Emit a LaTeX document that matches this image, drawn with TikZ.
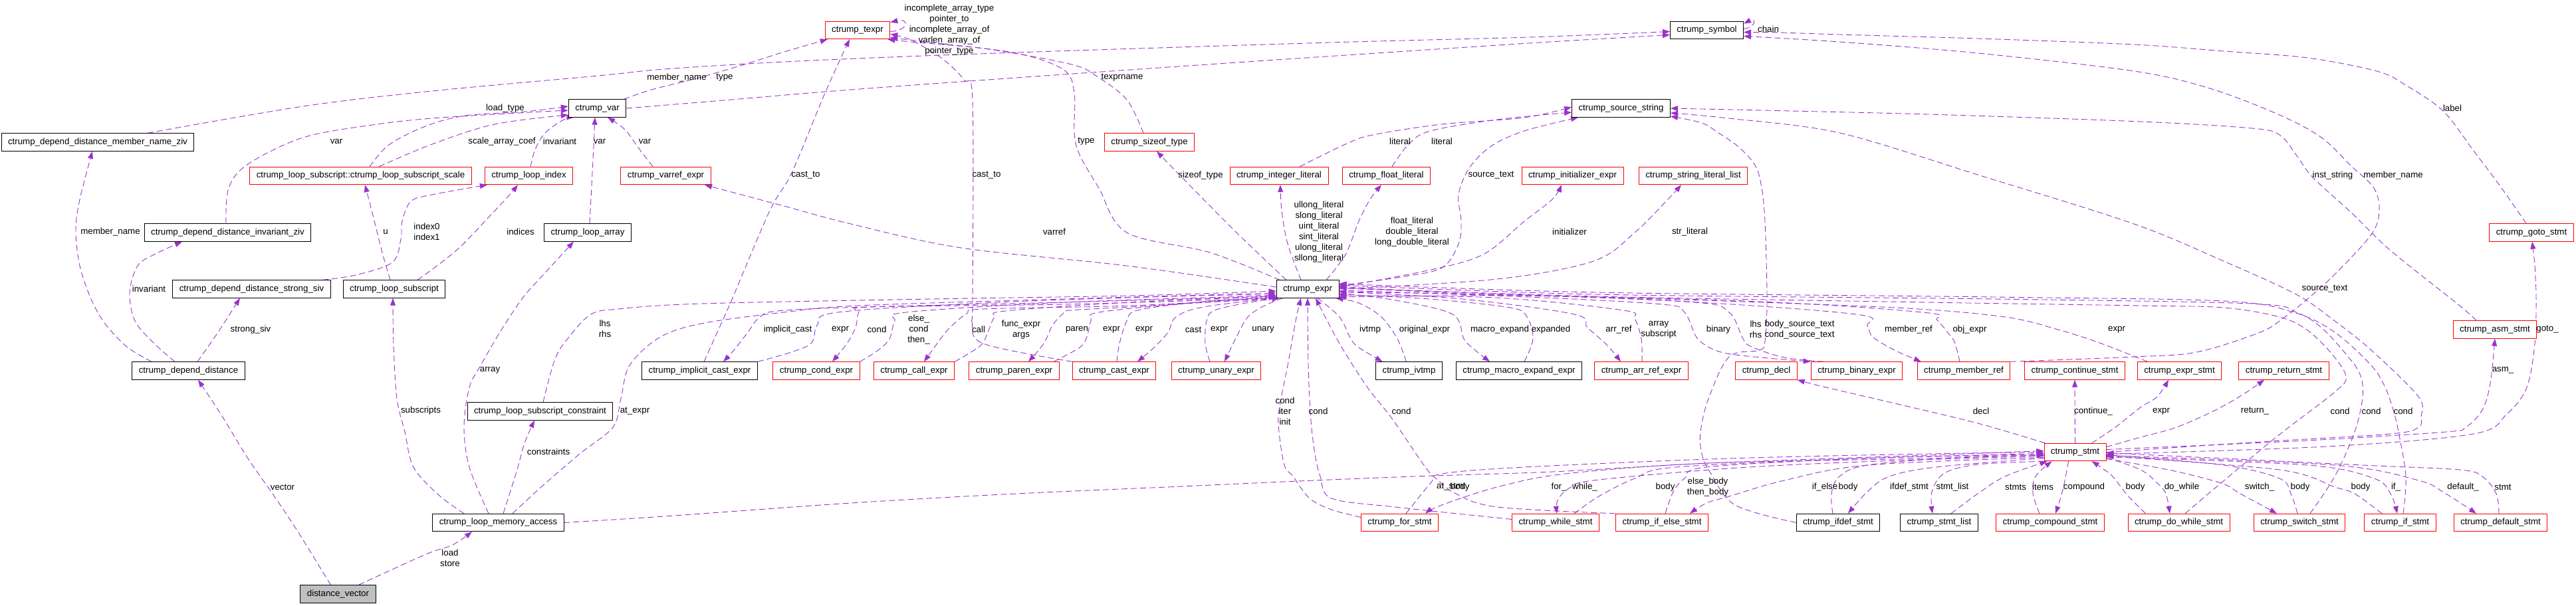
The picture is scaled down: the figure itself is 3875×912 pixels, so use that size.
\documentclass[tikz,border=0pt]{standalone}
\usepackage{fontspec}
\setmainfont{Liberation Sans}
\usetikzlibrary{arrows.meta}
\definecolor{dorchid}{HTML}{9A32CD}
\definecolor{nred}{HTML}{FF0000}
\definecolor{ngray}{HTML}{BFBFBF}
\newcommand\dgf{\fontsize{13.3}{16}\selectfont}
\newcommand\dgedge[1]{\draw[edge] plot[smooth,tension=0.55] coordinates {#1};}
\pgfdeclarelayer{bgl}
\pgfdeclarelayer{edl}
\pgfsetlayers{bgl,edl,main}
\begin{document}
\begin{tikzpicture}[x=1pt,y=-1pt,
  box/.style={draw=black, line width=0.9pt, fill=white, font=\dgf, inner xsep=10pt, inner ysep=0pt, minimum height=26.5pt, text height=9.6pt, text depth=2.8pt},
  rbox/.style={box, draw=nred},
  gbox/.style={box, fill=ngray},
  lbl/.style={font=\dgf, inner sep=0pt, align=center},
  edge/.style={draw=dorchid, line width=0.9pt, dash pattern=on 9pt off 5pt, -{Triangle[length=11pt,width=8pt]}}]
\useasboundingbox (0,0) rectangle (3875,912);
\begin{pgfonlayer}{bgl}
\fill[white] (0,0) rectangle (3875,912);
\end{pgfonlayer}
% ---------- nodes
\node[box] (nmnz) at (147,214) {ctrump\_depend\_distance\_member\_name\_ziv};
\node[rbox] (nscale) at (542.5,264.5) {ctrump\_loop\_subscript::ctrump\_loop\_subscript\_scale};
\node[box] (ninvz) at (342.5,350) {ctrump\_depend\_distance\_invariant\_ziv};
\node[box] (nssiv) at (378.5,435) {ctrump\_depend\_distance\_strong\_siv};
\node[box] (nlsub) at (593,435) {ctrump\_loop\_subscript};
\node[box] (ndd) at (283.5,558) {ctrump\_depend\_distance};
\node[gbox] (ndv) at (508.5,894) {distance\_vector};
\node[rbox] (ntexpr) at (1290,45.5) {ctrump\_texpr};
\node[box] (nvar) at (898.5,163) {ctrump\_var};
\node[rbox] (nlidx) at (795.5,264.5) {ctrump\_loop\_index};
\node[rbox] (nvarref) at (1001.5,264.5) {ctrump\_varref\_expr};
\node[box] (nlarr) at (884,350) {ctrump\_loop\_array};
\node[box] (nlsc) at (812.5,619) {ctrump\_loop\_subscript\_constraint};
\node[box] (nlma) at (749.5,786.5) {ctrump\_loop\_memory\_access};
\node[box] (nimpl) at (1052.5,558) {ctrump\_implicit\_cast\_expr};
\node[rbox] (ncondx) at (1228,558) {ctrump\_cond\_expr};
\node[rbox] (ncall) at (1375,558) {ctrump\_call\_expr};
\node[rbox] (nparen) at (1525.5,558) {ctrump\_paren\_expr};
\node[rbox] (ncast) at (1676,558) {ctrump\_cast\_expr};
\node[rbox] (nunary) at (1829.5,558) {ctrump\_unary\_expr};
\node[rbox] (nsizeof) at (1729,214) {ctrump\_sizeof\_type};
\node[rbox] (nintlit) at (1924,264.5) {ctrump\_integer\_literal};
\node[box] (nsym) at (2567.5,45.5) {ctrump\_symbol};
\node[box] (nsrc) at (2438.5,163) {ctrump\_source\_string};
\node[rbox] (nflt) at (2085.5,264.5) {ctrump\_float\_literal};
\node[rbox] (ninit) at (2365.5,264.5) {ctrump\_initializer\_expr};
\node[rbox] (nstrl) at (2547,264.5) {ctrump\_string\_literal\_list};
\node[box] (nexpr) at (1967,435) {ctrump\_expr};
\node[box] (nivtmp) at (2119.5,558) {ctrump\_ivtmp};
\node[box] (nmacro) at (2285,558) {ctrump\_macro\_expand\_expr};
\node[rbox] (narr) at (2469,558) {ctrump\_arr\_ref\_expr};
\node[rbox] (nfor) at (2105.5,786.5) {ctrump\_for\_stmt};
\node[rbox] (nwhile) at (2340,786.5) {ctrump\_while\_stmt};
\node[rbox] (nifelse) at (2500,786.5) {ctrump\_if\_else\_stmt};
\node[rbox] (ndecl) at (2657,558) {ctrump\_decl};
\node[rbox] (nbin) at (2793,558) {ctrump\_binary\_expr};
\node[rbox] (nmref) at (2954,558) {ctrump\_member\_ref};
\node[rbox] (ncont) at (3121,558) {ctrump\_continue\_stmt};
\node[rbox] (nstmt) at (3121.5,680.5) {ctrump\_stmt};
\node[box] (nifdef) at (2765,786.5) {ctrump\_ifdef\_stmt};
\node[box] (nslist) at (2917,786.5) {ctrump\_stmt\_list};
\node[rbox] (ncomp) at (3084,786.5) {ctrump\_compound\_stmt};
\node[rbox] (nestmt) at (3278.5,558) {ctrump\_expr\_stmt};
\node[rbox] (nret) at (3435.5,558) {ctrump\_return\_stmt};
\node[rbox] (nasm) at (3753,496) {ctrump\_asm\_stmt};
\node[rbox] (ndow) at (3277.5,786.5) {ctrump\_do\_while\_stmt};
\node[rbox] (nsw) at (3459,786.5) {ctrump\_switch\_stmt};
\node[rbox] (nifs) at (3610.5,786.5) {ctrump\_if\_stmt};
\node[rbox] (ndef) at (3761.5,786.5) {ctrump\_default\_stmt};
\node[rbox] (ngoto) at (3808,350) {ctrump\_goto\_stmt};
% ---------- labels
\node[lbl] (lb1) at (425,733) {vector};
\node[lbl] (lb2) at (677,840) {load\\store};
\node[lbl] (lb3) at (166,349) {member\_name};
\node[lbl] (lb4) at (224,435) {invariant};
\node[lbl] (lb5) at (377,496) {strong\_siv};
\node[lbl] (lb6) at (633,618) {subscripts};
\node[lbl] (lb7) at (737,557) {array};
\node[lbl] (lb8) at (825,680) {constraints};
\node[lbl] (lb9) at (955,619) {at\_expr};
\node[lbl] (lb10) at (910,495) {lhs\\rhs};
\node[lbl] (lb11) at (580,349) {u};
\node[lbl] (lb12) at (642,349) {index0\\index1};
\node[lbl] (lb13) at (783,349) {indices};
\node[lbl] (lb14) at (506,213) {var};
\node[lbl] (lb15) at (760,163) {load\_type};
\node[lbl] (lb16) at (755,213) {scale\_array\_coef};
\node[lbl] (lb17) at (842,213) {invariant};
\node[lbl] (lb18) at (902,213) {var};
\node[lbl] (lb19) at (970,213) {var};
\node[lbl] (lb20) at (1018,117) {member\_name};
\node[lbl] (lb21) at (1090,117) {type};
\node[lbl] (lb22) at (1212,264) {cast\_to};
\node[lbl] (lb23) at (1484,264) {cast\_to};
\node[lbl] (lb24) at (1428,45) {incomplete\_array\_type\\pointer\_to\\incomplete\_array\_of\\varlen\_array\_of\\pointer\_type};
\node[lbl] (lb25) at (1688,117) {texprname};
\node[lbl] (lb26) at (1634,213) {type};
\node[lbl] (lb27) at (1806,264) {sizeof\_type};
\node[lbl] (lb28) at (1586,349) {varref};
\node[lbl] (lb29) at (1984,349) {ullong\_literal\\slong\_literal\\uint\_literal\\sint\_literal\\ulong\_literal\\sllong\_literal};
\node[lbl] (lb30) at (2124,349) {float\_literal\\double\_literal\\long\_double\_literal};
\node[lbl] (lb31) at (2106,213) {literal};
\node[lbl] (lb32) at (2169,213) {literal};
\node[lbl] (lb33) at (2243,264) {source\_text};
\node[lbl] (lb34) at (2361,349) {initializer};
\node[lbl] (lb35) at (2542,349) {str\_literal};
\node[lbl] (lb36) at (2660,44) {chain};
\node[lbl] (lb37) at (3689,163) {label};
\node[lbl] (lb38) at (3600,264) {member\_name};
\node[lbl] (lb39) at (3509,264) {inst\_string};
\node[lbl] (lb40) at (3497,435) {source\_text};
\node[lbl] (lb41) at (2707,496) {body\_source\_text\\cond\_source\_text};
\node[lbl] (lb42) at (1185,496) {implicit\_cast};
\node[lbl] (lb43) at (1264,496) {expr};
\node[lbl] (lb44) at (1319,496) {cond};
\node[lbl] (lb45) at (1382,496) {else\_\\cond\\then\_};
\node[lbl] (lb46) at (1472,496) {call};
\node[lbl] (lb47) at (1536,496) {func\_expr\\args};
\node[lbl] (lb48) at (1620,496) {paren};
\node[lbl] (lb49) at (1672,496) {expr};
\node[lbl] (lb50) at (1721,496) {expr};
\node[lbl] (lb51) at (1795,496) {cast};
\node[lbl] (lb52) at (1834,496) {expr};
\node[lbl] (lb53) at (1900,496) {unary};
\node[lbl] (lb54) at (2061,496) {ivtmp};
\node[lbl] (lb55) at (2143,496) {original\_expr};
\node[lbl] (lb56) at (2256,496) {macro\_expand};
\node[lbl] (lb57) at (2333,496) {expanded};
\node[lbl] (lb58) at (2435,496) {arr\_ref};
\node[lbl] (lb59) at (2495,496) {array\\subscript};
\node[lbl] (lb60) at (2585,496) {binary};
\node[lbl] (lb61) at (2641,496) {lhs\\rhs};
\node[lbl] (lb62) at (2871,496) {member\_ref};
\node[lbl] (lb63) at (2963,496) {obj\_expr};
\node[lbl] (lb64) at (3184,496) {expr};
\node[lbl] (lb65) at (3520,619) {cond};
\node[lbl] (lb66) at (3567,619) {cond};
\node[lbl] (lb67) at (3615,619) {cond};
\node[lbl] (lb68) at (1933,619) {cond\\iter\\init};
\node[lbl] (lb69) at (1983,619) {cond};
\node[lbl] (lb70) at (2108,619) {cond};
\node[lbl] (lb71) at (2980,619) {decl};
\node[lbl] (lb72) at (3149,619) {continue\_};
\node[lbl] (lb73) at (3251,619) {expr};
\node[lbl] (lb74) at (3392,619) {return\_};
\node[lbl] (lb75) at (3765,557) {asm\_};
\node[lbl] (lb76) at (3832,496) {goto\_};
\node[lbl] (lb77) at (2183,733) {at\_stmt};
\node[lbl] (lb78) at (2196,733) {body};
\node[lbl] (lb79) at (2345,733) {for\_};
\node[lbl] (lb80) at (2384,733) {while\_};
\node[lbl] (lb81) at (2505,733) {body};
\node[lbl] (lb82) at (2569,733) {else\_body\\then\_body};
\node[lbl] (lb83) at (2745,733) {if\_else};
\node[lbl] (lb84) at (2780,733) {body};
\node[lbl] (lb85) at (2872,733) {ifdef\_stmt};
\node[lbl] (lb86) at (2937,733) {stmt\_list};
\node[lbl] (lb87) at (3032,733) {stmts};
\node[lbl] (lb88) at (3073,733) {items};
\node[lbl] (lb89) at (3135,733) {compound};
\node[lbl] (lb90) at (3212,733) {body};
\node[lbl] (lb91) at (3282,733) {do\_while};
\node[lbl] (lb92) at (3399,733) {switch\_};
\node[lbl] (lb93) at (3460,733) {body};
\node[lbl] (lb94) at (3551,733) {body};
\node[lbl] (lb95) at (3604,733) {if\_};
\node[lbl] (lb96) at (3705,733) {default\_};
\node[lbl] (lb97) at (3765,733) {stmt};
% ---------- edges
\begin{pgfonlayer}{edl}
\dgedge{([xshift=-11pt]ndv.north) (448,800) (410,743) (373,690) (332,623) ([xshift=14.5pt]ndd.south)}
\dgedge{([xshift=31pt]ndv.north) (590,857) (646,832) (681,820) ([xshift=-39.5pt]nlma.south)}
\dgedge{([xshift=-55.5pt]ndd.north) (191,522) (158,487) (137,450) (120,400) (114,347) (120,300) ([xshift=-8pt]nmnz.south)}
\dgedge{([xshift=-20.5pt]ndd.north) (232,517) (203,483) (195,440) (207,400) (232,383) ([xshift=-68.5pt]ninvz.south)}
\dgedge{([xshift=13.5pt]ndd.north) (328,500) ([xshift=-17.5pt]nssiv.south)}
\dgedge{([xshift=-51.5pt]nlma.north) (660,745) (622,703) (609,650) (597,600) (592,520) ([xshift=-2pt]nlsub.south)}
\dgedge{([xshift=-14.5pt]nlma.north) (706,703) (698,643) (706,583) (723,550) (752,500) (785,450) (814,417) ([xshift=-21pt]nlarr.south)}
\dgedge{([xshift=7.5pt]nlma.north) (777,710) (789,667) ([xshift=-8.5pt]nlsc.south)}
\dgedge{([xshift=21.5pt]nlma.north) (814,733) (872,683) (922,643) (934,600) (947,550) (992,508) (1055,487) (1179,470) (1290,460) (1600,450) ([yshift=-6pt]nexpr.west)}
\dgedge{([xshift=4.5pt]nlsc.north) (835,540) (856,507) (889,473) (930,465) (1055,457) (1400,450) (1700,445) ([yshift=-3pt]nexpr.west)}
\dgedge{(nlma.east) (1000,777) (1280,757) (1529,743) (1778,732) (1930,725) (2127,717) (2335,710) (2570,697) (2900,685) ([yshift=2pt]nstmt.west)}
\dgedge{([xshift=-6pt]nlsub.north) (575,380) (560,320) ([xshift=6.5pt]nscale.south)}
\dgedge{([xshift=106.5pt]nssiv.north) (535,414) (590,395) (603,360) (605,333) (618,303) (650,293) ([xshift=4pt]nlidx.south west)}
\dgedge{([xshift=35pt]nlsub.north) (660,398) (694,370) (735,327) (765,295) ([xshift=-16.5pt]nlidx.south)}
\dgedge{([xshift=-2.5pt]ninvz.north) (344,283) (373,247) (456,207) (560,188) (650,178) (780,170) ([yshift=-3pt]nvar.west)}
\dgedge{([xshift=27.5pt]nscale.north) (650,217) (744,187) ([yshift=-10pt]nvar.west)}
\dgedge{([xshift=13.5pt]nscale.north) (585,218) (640,190) (700,174) (790,168) ([yshift=3pt]nvar.west)}
\dgedge{([xshift=2.5pt]nlidx.north) (805,225) (820,200) (848,180) ([xshift=-35pt]nvar.south)}
\dgedge{([xshift=3pt]nlarr.north) (890,280) (893,220) ([xshift=-3.5pt]nvar.south)}
\dgedge{([xshift=-19.5pt]nvarref.north) (960,222) (940,195) ([xshift=15.5pt]nvar.south)}
\dgedge{([xshift=40pt]nvar.north) (980,135) (1040,120) (1110,100) (1180,78) ([xshift=4pt]ntexpr.south west)}
\dgedge{([xshift=75pt]nmnz.north) (456,160) (650,137) (900,114) (1000,104) (1200,92) (1500,80) (2000,64) (2300,56) ([yshift=-2pt]nsym.west)}
\dgedge{(nvar.east) (1100,150) (1280,135) (1600,112) (1920,90) (2300,65) ([yshift=-7pt]nsym.west)}
\draw[edge] ([yshift=-2pt]ntexpr.east) .. controls (1368,46) and (1368,27) .. ([yshift=12pt]ntexpr.east);
\dgedge{([xshift=-42pt]nexpr.north) (1820,380) (1695,350) (1653,283) (1624,233) (1616,200) (1616,140) (1600,105) (1529,80) (1400,64) ([yshift=-11pt]ntexpr.east)}
\dgedge{([xshift=-9pt]nsizeof.north) (1695,150) (1650,115) (1612,97) (1487,74) (1380,64) ([xshift=-4pt]ntexpr.south east)}
\dgedge{([xshift=-32pt]nexpr.north) (1860,350) (1778,267) ([xshift=11pt]nsizeof.south)}
\dgedge{([yshift=3pt]nexpr.west) (1695,400) (1446,373) (1280,337) (1179,310) ([xshift=58.5pt]nvarref.south)}
\dgedge{([xshift=6.5pt]nimpl.north) (1079,500) (1100,453) (1158,317) (1191,260) (1241,140) ([xshift=-12pt]ntexpr.south)}
\dgedge{([xshift=-63pt]ncast.north) (1479,517) (1462,483) (1463,453) (1463,153) (1450,120) (1417,88) (1370,60) ([yshift=-6pt]ntexpr.east)}
\draw[edge] ([yshift=2pt]nsym.east) .. controls (2642,41) and (2642,26) .. ([yshift=10pt]nsym.east);
\dgedge{([xshift=-8pt]ngoto.north) (3763,283) (3721,227) (3675,167) (3617,127) (3575,107) (3471,87) (3345,77) (3210,67) (2975,58) (2767,52) (2676,49) ([yshift=-3pt]nsym.east)}
\dgedge{(nmref.north east) (3210,537) (3304,530) (3400,500) (3437,477) (3471,450) (3512,413) (3567,353) (3579,317) (3571,283) (3537,250) (3492,207) (3429,173) (3324,133) (3210,107) (2975,80) (2767,63) ([yshift=-9pt]nsym.east)}
\dgedge{([xshift=-28pt]nasm.north) (3700,460) (3596,377) (3537,320) (3479,267) (3454,233) (3429,203) (3387,193) (3220,183) (2900,172) (2650,166) (nsrc.east)}
\dgedge{(nstmt.east) (3400,665) (3596,653) (3638,643) (3642,627) (3638,597) (3567,527) (3512,483) (3454,443) (3345,393) (3210,337) (2975,263) (2767,200) (2600,178) ([yshift=-7pt]nsrc.east)}
\dgedge{(nifdef.west) (2610,760) (2572,710) (2560,683) (2558,650) (2570,600) (2601,537) (2647,527) (2655,513) (2658,450) (2655,333) (2649,277) (2639,247) (2614,220) (2585,200) (2560,185) ([yshift=-12pt]nsrc.east)}
\dgedge{([xshift=31pt]nintlit.north) (2024,217) (2065,203) (2169,187) (2293,177) ([yshift=2pt]nsrc.west)}
\dgedge{([xshift=8.5pt]nflt.north) (2119,217) (2152,197) (2252,180) ([yshift=-6pt]nsrc.west)}
\dgedge{([yshift=5pt]nexpr.east) (2107,417) (2169,403) (2194,367) (2198,333) (2194,293) (2210,253) (2243,220) (2293,197) ([xshift=10pt]nsrc.south west)}
\dgedge{([xshift=-10pt]nexpr.north) (1937,367) (1928,317) ([xshift=2pt]nintlit.south)}
\dgedge{([xshift=28pt]nexpr.north) (2024,383) (2044,333) (2061,300) ([xshift=-7.5pt]nflt.south)}
\dgedge{([yshift=3pt]nexpr.east) (2148,407) (2231,383) (2293,333) (2335,300) ([xshift=-16.5pt]ninit.south)}
\dgedge{(nexpr.east) (2252,420) (2397,393) (2459,350) (2509,300) ([xshift=-18pt]nstrl.south)}
\dgedge{(nimpl.north east) (1216,520) (1229,490) (1260,470) (1500,455) (1800,445) ([yshift=-9pt]nexpr.west)}
\dgedge{([yshift=-11pt]nexpr.west) (1600,455) (1300,462) (1170,468) (1142,478) (1125,500) (1104,527) ([xshift=35.5pt]nimpl.north)}
\dgedge{(nexpr.south west) (1600,458) (1310,462) (1292,470) (1287,493) (1274,517) ([xshift=24pt]ncondx.north)}
\dgedge{(ncondx.north east) (1321,527) (1338,510) (1346,483) (1363,470) (1600,455) ([yshift=-10pt]nexpr.west)}
\dgedge{(nexpr.south west) (1700,460) (1480,465) (1454,472) (1429,493) (1417,507) ([xshift=15pt]ncall.north)}
\dgedge{(ncall.north east) (1475,520) (1487,497) (1496,477) (1512,468) (1700,455) ([yshift=-11pt]nexpr.west)}
\dgedge{(nexpr.south west) (1700,462) (1610,467) (1599,472) (1583,490) (1570,517) ([xshift=21.5pt]nparen.north)}
\dgedge{([xshift=59.5pt]nparen.north) (1624,523) (1635,507) (1641,483) (1653,470) (1800,455) ([yshift=-12pt]nexpr.west)}
\dgedge{([xshift=4pt]ncast.north) (1684,517) (1695,483) (1711,467) (1800,455) ([yshift=-12pt]nexpr.west)}
\dgedge{(nexpr.south west) (1810,462) (1769,477) (1757,500) (1736,523) ([xshift=35pt]ncast.north)}
\dgedge{([xshift=-9.5pt]nunary.north) (1813,517) (1815,483) (1827,467) (1880,455) ([xshift=5pt]nexpr.south west)}
\dgedge{([xshift=10pt]nexpr.south west) (1902,460) (1877,477) (1860,507) ([xshift=12.5pt]nunary.north)}
\dgedge{([xshift=15pt]nexpr.south) (2015,477) (2032,510) (2044,523) ([xshift=-40pt]nivtmp.north)}
\dgedge{([xshift=-4pt]nivtmp.north) (2102,510) (2078,477) (2044,456) ([xshift=-5pt]nexpr.south east)}
\dgedge{([yshift=-6pt]nexpr.east) (2100,452) (2185,473) (2202,510) (2219,527) ([xshift=-44pt]nmacro.north)}
\dgedge{([xshift=8pt]nmacro.north) (2306,510) (2297,477) (2272,463) (2150,450) ([yshift=-8pt]nexpr.east)}
\dgedge{([yshift=-4pt]nexpr.east) (2200,450) (2368,473) (2388,493) (2418,520) ([xshift=-31pt]narr.north)}
\dgedge{([xshift=1pt]narr.north) (2469,510) (2459,480) (2442,467) (2250,448) ([yshift=-10pt]nexpr.east)}
\dgedge{([yshift=-2pt]nexpr.east) (2300,447) (2500,458) (2534,470) (2554,510) (2589,530) (2650,538) (nbin.north west)}
\dgedge{([xshift=20pt]nbin.north west) (2684,538) (2635,522) (2622,510) (2601,470) (2550,455) (2300,445) ([yshift=-12pt]nexpr.east)}
\dgedge{([yshift=1pt]nexpr.east) (2500,452) (2792,473) (2809,490) (2817,507) (2850,527) ([xshift=-64pt]nmref.north)}
\dgedge{([xshift=-6pt]nmref.north) (2941,517) (2935,507) (2914,482) (2892,470) (2600,452) ([yshift=-4pt]nexpr.east)}
\dgedge{([xshift=-48pt]nestmt.north) (3161,517) (3099,497) (3016,477) (2850,463) (2500,450) (2200,442) ([yshift=4pt]nexpr.east)}
\dgedge{([xshift=9.5pt]ndow.north) (3341,727) (3425,657) (3512,590) (3529,567) (3508,533) (3471,497) (3429,477) (3345,463) (3220,460) (2900,455) (2400,446) ([yshift=2pt]nexpr.east)}
\dgedge{([xshift=16pt]nsw.north) (3512,717) (3542,650) (3554,597) (3550,563) (3529,533) (3492,493) (3454,470) (3387,457) (3000,450) (2400,443) ([yshift=6pt]nexpr.east)}
\dgedge{([xshift=4.5pt]nifs.north) (3619,717) (3608,650) (3600,617) (3588,583) (3567,550) (3512,500) (3450,470) (3345,453) (3000,447) (2400,440) ([yshift=8pt]nexpr.east)}
\dgedge{([yshift=8pt]nfor.west) (2003,767) (1970,750) (1945,717) (1932,700) (1924,650) (1924,617) (1937,550) (1949,483) ([xshift=-10pt]nexpr.south)}
\dgedge{([yshift=5pt]nwhile.west) (2098,763) (2003,750) (1986,717) (1978,683) (1972,633) (1968,550) (nexpr.south)}
\dgedge{(nifelse.north west) (2252,763) (2190,743) (2160,720) (2144,703) (2094,630) (2057,583) (2015,517) ([xshift=12pt]nexpr.south)}
\dgedge{([xshift=-45pt]nstmt.north) (2975,637) (2850,607) (2747,583) (ndecl.south east)}
\dgedge{(nstmt.north) (ncont.south)}
\dgedge{([xshift=25pt]nstmt.north) (3182,643) (3220,613) (3245,597) ([xshift=-16.5pt]nestmt.south)}
\dgedge{([yshift=8pt]nstmt.east) (3220,658) (3274,643) (3333,617) (3375,593) ([xshift=-29.5pt]nret.south)}
\dgedge{([yshift=4pt]nstmt.east) (3470,663) (3679,650) (3709,643) (3734,617) (3746,577) (nasm.south)}
\dgedge{([yshift=-3pt]nstmt.east) (3500,672) (3721,653) (3771,623) (3801,583) (3813,517) (3815,450) (3813,400) ([xshift=1pt]ngoto.south)}
\dgedge{([yshift=-4pt]nstmt.west) (2900,690) (2570,697) (2355,713) (2252,733) (2169,760) ([xshift=38.5pt]nfor.north)}
\dgedge{([xshift=9.5pt]nfor.north) (2152,727) (2169,713) (2293,703) (2600,690) (2900,683) (nstmt.west)}
\dgedge{([yshift=-6pt]nstmt.west) (2800,695) (2600,705) (2397,723) (2360,735) (2343,753) ([xshift=2pt]nwhile.north)}
\dgedge{([xshift=28pt]nwhile.north) (2405,747) (2459,720) (2521,703) (2800,690) ([yshift=-2pt]nstmt.west)}
\dgedge{([yshift=-8pt]nstmt.west) (2809,700) (2684,723) (2601,747) (2567,757) ([xshift=42pt]nifelse.north)}
\dgedge{([xshift=5pt]nifelse.north) (2517,740) (2534,720) (2567,703) (2800,690) ([yshift=-3pt]nstmt.west)}
\dgedge{([xshift=-8pt]nifdef.north) (2755,743) (2767,717) (2809,700) (2950,688) ([yshift=-5pt]nstmt.west)}
\dgedge{([yshift=-9pt]nstmt.west) (2912,703) (2842,717) (2809,740) ([xshift=15pt]nifdef.north)}
\dgedge{(nstmt.south west) (2975,699) (2925,712) (2906,740) ([xshift=-10pt]nslist.north)}
\dgedge{([xshift=18pt]nslist.north) (2975,743) (3016,717) ([xshift=5pt]nstmt.south west)}
\dgedge{([xshift=-16pt]ncomp.north) (3058,743) (3062,717) ([xshift=-35pt]nstmt.south)}
\dgedge{([xshift=-10pt]nstmt.south) (3103,737) ([xshift=8pt]ncomp.north)}
\dgedge{([xshift=-50pt]ndow.north) (3200,745) (3178,717) (3160,703) ([xshift=25pt]nstmt.south)}
\dgedge{([yshift=-8pt]nstmt.east) (3220,707) (3245,727) (3258,743) ([xshift=-13.5pt]ndow.north)}
\dgedge{([yshift=-10pt]nstmt.east) (3262,707) (3341,727) (3370,743) ([xshift=-34pt]nsw.north)}
\dgedge{([xshift=-3pt]nsw.north) (3446,743) (3429,720) (3345,700) ([yshift=-4pt]nstmt.east)}
\dgedge{([xshift=-27.5pt]nifs.north) (3542,743) (3512,733) (3429,707) ([yshift=-6pt]nstmt.east)}
\dgedge{([yshift=-7pt]nstmt.east) (3471,700) (3571,720) (3596,743) ([xshift=-4.5pt]nifs.north)}
\dgedge{([yshift=-5pt]nstmt.east) (3512,700) (3638,723) (3679,743) ([xshift=-36.5pt]ndef.north)}
\dgedge{([xshift=-2.5pt]ndef.north) (3755,743) (3734,717) (3700,707) (3554,700) ([yshift=-1pt]nstmt.east)}
\end{pgfonlayer}
\end{tikzpicture}
\end{document}
